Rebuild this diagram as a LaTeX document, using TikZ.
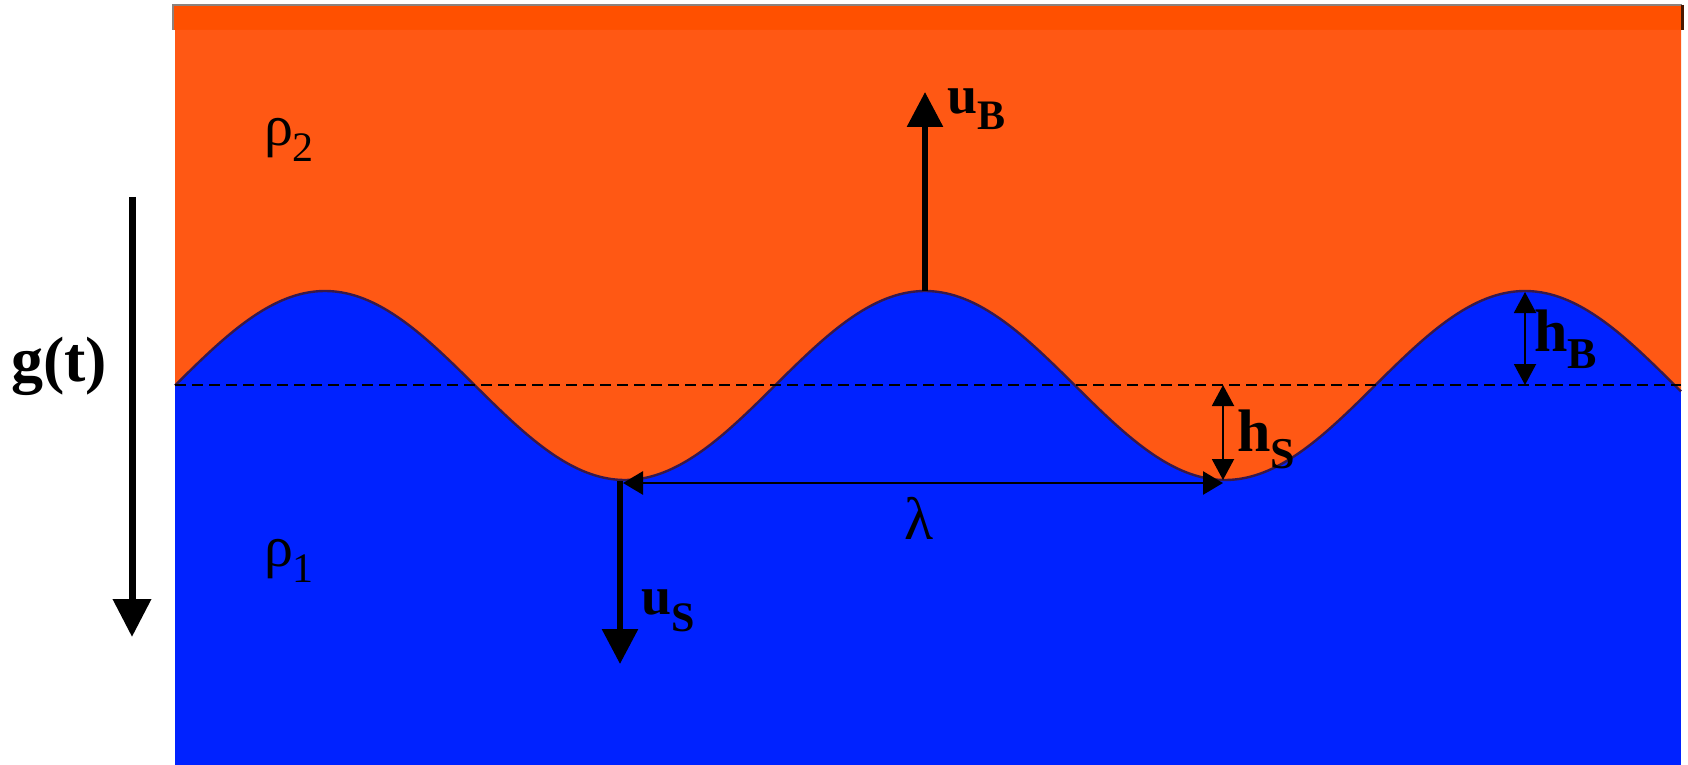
\documentclass[tikz,border=0pt]{standalone}
\usepackage{fontspec}
\setmainfont{Liberation Serif}
\usetikzlibrary{arrows.meta}
\definecolor{orangeA}{RGB}{255,88,20}
\definecolor{orangeB}{RGB}{255,80,0}
\definecolor{blueA}{RGB}{0,34,255}
\definecolor{waveline}{RGB}{55,25,75}
\definecolor{frameline}{RGB}{140,130,125}
\newcommand\subl[4]{#1\raisebox{-#4}{\fontsize{#3}{#3}\selectfont #2}}
\begin{document}
\begin{tikzpicture}[x=0.5pt,y=-0.5pt,
  lbl/.style={inner sep=0pt,outer sep=0pt},
  boldlbl/.style={lbl,font=\fontsize{27}{27}\bfseries\selectfont},
  hlbl/.style={lbl,font=\fontsize{30}{30}\bfseries\selectfont},
  rholbl/.style={lbl,font=\fontsize{29}{29}\selectfont},
  bigarrow/.style={line width=3pt,-{Triangle[length=17.5pt,width=17.5pt]}},
  garrow/.style={line width=3.5pt,-{Triangle[length=19pt,width=18.5pt]}},
  dimarrow/.style={line width=1.4pt,{Triangle[length=10pt,width=11.5pt]}-{Triangle[length=10pt,width=11.5pt]}},
  harrow/.style={line width=1pt,{Triangle[length=10.5pt,width=11pt]}-{Triangle[length=10.5pt,width=11pt]}},
  meanline/.style={line width=1pt,dash pattern=on 5.5pt off 3pt}]
\useasboundingbox (0,0) rectangle (1688,765);
% fluids
\fill[blueA] (175,30) rectangle (1681,765);
\fill[orangeB] (173,5) rectangle (1683,30);
\draw[frameline,line width=1pt] (173,30) -- (173,5) -- (1682,5);
\draw[black!70!orangeB,line width=1.5pt] (1682,5) -- (1682,30);
\fill[orangeA] (175,30) -- (175,385.5)
  -- plot[domain=175:1681,samples=240,smooth] (\x,{385.5-94.5*sin(0.6*(\x-175))})
  -- (1681,30) -- cycle;
\draw[waveline,line width=1.2pt] plot[domain=175:1681,samples=240,smooth] (\x,{385.5-94.5*sin(0.6*(\x-175))});
% mean level
\coordinate (mL) at (175,385);
\coordinate (mR) at (1681,385);
\draw[meanline] (mL) -- (mR);
% key points
\coordinate (crestB) at (925,291);
\coordinate (uBtip) at (925,92);
\coordinate (troughS) at (620,481);
\coordinate (uStip) at (620,664);
\coordinate (lamL) at (623,483);
\coordinate (lamR) at (1223,483);
\coordinate (hStop) at (1223,385);
\coordinate (hSbot) at (1223,480);
\coordinate (hBtop) at (1525,292);
\coordinate (hBbot) at (1525,385);
\coordinate (gtop) at (132,197);
\coordinate (gtip) at (132,637);
% arrows
\draw[garrow] (gtop) -- (gtip);
\draw[bigarrow] (crestB) -- (uBtip);
\draw[bigarrow] (troughS) -- (uStip);
\draw[dimarrow] (lamL) -- (lamR);
\draw[harrow] (hStop) -- (hSbot);
\draw[harrow] (hBtop) -- (hBbot);
% labels
\node[lbl,font=\fontsize{32}{32}\bfseries\selectfont,anchor=base] (g) at (59,381) {g(t)};
\node[rholbl,anchor=base west] (rho2) at (264,146) {\subl{ρ}{2}{21}{8pt}};
\node[rholbl,anchor=base west] (rho1) at (264,566) {\subl{ρ}{1}{21}{8pt}};
\node[boldlbl,anchor=base west] (uB) at (947,114) {\subl{u}{B}{21}{8pt}};
\node[boldlbl,anchor=base west] (uS) at (641,614) {\subl{u}{S}{21}{8.5pt}};
\node[hlbl,anchor=base west] (hS) at (1237,451) {\subl{h}{S}{22}{8.5pt}};
\node[hlbl,anchor=base west] (hB) at (1534,351) {\subl{h}{B}{22}{8.5pt}};
\node[lbl,font=\fontsize{30}{30}\selectfont,anchor=base] (lam) at (919,539) {λ};
\end{tikzpicture}
\end{document}
